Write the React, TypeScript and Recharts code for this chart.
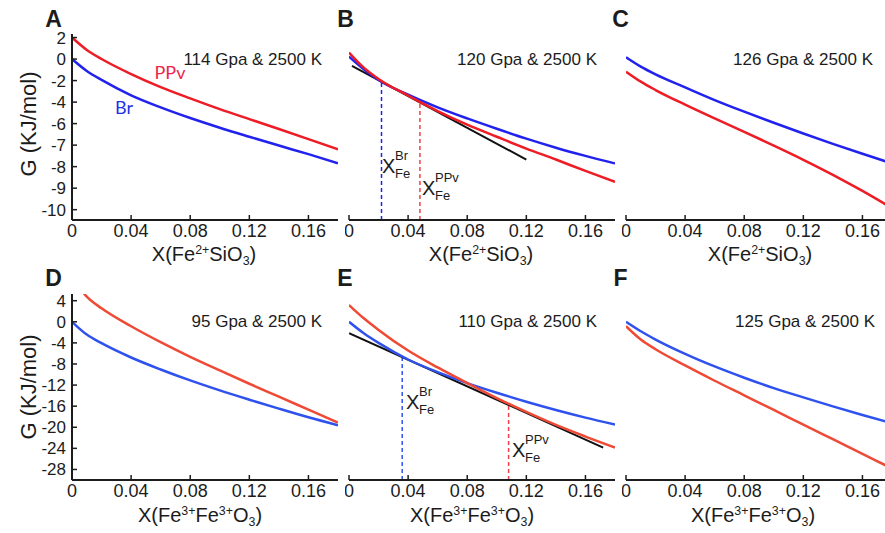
import { Line, LineChart, XAxis, YAxis } from "recharts";

const FONT = '"Liberation Sans", Arial, Helvetica, sans-serif';
const INK = "#1c1c1c";

// mole fraction grid shared by every curve
const xFrac = [0, 0.01, 0.02, 0.04, 0.06, 0.08, 0.1, 0.12, 0.14, 0.16, 0.18];
const xTicks = [0, 0.04, 0.08, 0.12, 0.16];

// tick labels as printed: the top row is evenly spaced on the page even though the values are not
const gTicksFe2 = [2, 0, -2, -4, -6, -7, -8, -9, -10];
const gTicksFe3 = [4, 0, -4, -8, -12, -16, -20, -24, -28];
const gDomainFe2 = [-10.48, 2.33];
const gDomainFe3 = [-30, 5.27];

// Fe2+SiO3, G in kJ/mol
const brA = [0, -1.11, -1.94, -3.37, -4.49, -5.48, -6.19, -6.61, -7.02, -7.42, -7.84];
const ppvA = [2, 0.85, 0.01, -1.39, -2.6, -3.65, -4.65, -5.58, -6.25, -6.72, -7.2];
const brB = [0.23, -0.95, -1.94, -3.31, -4.49, -5.52, -6.24, -6.7, -7.12, -7.5, -7.85];
const ppvB = [0.6, -0.8, -1.85, -3.4, -4.83, -6.05, -6.61, -7.16, -7.67, -8.2, -8.71];
const brC = [0.17, -0.7, -1.42, -2.63, -3.81, -4.89, -5.92, -6.46, -6.94, -7.4, -7.85];
const ppvC = [-1.17, -2.1, -2.88, -4.24, -5.52, -6.38, -7.02, -7.68, -8.38, -9.13, -9.93];

// Fe3+Fe3+O3
const brD = [0, -2.43, -4.06, -6.77, -9.04, -11.12, -13.01, -14.77, -16.47, -18.11, -19.62];
const ppvD = [8.5, 4.76, 2.55, -0.85, -3.87, -6.65, -9.23, -11.75, -14.2, -16.66, -19.12];
const brE = [0, -2.17, -4.0, -7.15, -9.54, -11.62, -13.45, -15.15, -16.72, -18.17, -19.5];
const ppvE = [3.18, 0.66, -1.54, -5.45, -8.66, -11.62, -14.46, -17.1, -19.56, -21.76, -23.84];
const brF = [0, -1.8, -3.37, -6.08, -8.47, -10.61, -12.57, -14.33, -16.03, -17.67, -19.24];
const ppvF = [-0.85, -3.37, -5.2, -8.28, -11.18, -13.95, -16.72, -19.5, -22.27, -25.04, -27.81];

// common tangents and the compositions they touch
const tangentB = [{ x: 0.002, g: -0.64 }, { x: 0.12, g: -7.67 }];
const xFeBrB = [{ x: 0.022, g: -10.48 }, { x: 0.022, g: -2.08 }];
const xFePpvB = [{ x: 0.048, g: -10.48 }, { x: 0.048, g: -4.0 }];
const tangentE = [{ x: 0, g: -2.17 }, { x: 0.172, g: -23.85 }];
const xFeBrE = [{ x: 0.036, g: -30 }, { x: 0.036, g: -6.7 }];
const xFePpvE = [{ x: 0.108, g: -30 }, { x: 0.108, g: -15.7 }];

const RED_2 = "#ee1c25";
const BLUE_2 = "#2222ee";
const RED_3 = "#ee4a36";
const BLUE_3 = "#2f52ef";

const PLOT_W = 266;
const PLOT_H = 186;

type Point = { x: number; g: number };
type Series = { key: string; data: Point[]; color: string; width?: number; dash?: string };

function rows(gs: number[]): Point[] {
  return xFrac.map((x, i) => ({ x, g: gs[i] }));
}

// piecewise linear scale that puts each printed tick one step apart
function stopScale(stops: number[]) {
  let dom = [stops[stops.length - 1], stops[0]];
  let rng = [0, 1];
  const last = stops.length - 2;
  const pos = (v: number) => {
    let i = 0;
    while (i < last && v < stops[i + 1]) i += 1;
    return i + (stops[i] - v) / (stops[i] - stops[i + 1]);
  };
  const scale: any = (v: number) => {
    const p0 = pos(dom[0]);
    const p1 = pos(dom[dom.length - 1]);
    return rng[0] + ((pos(v) - p0) / (p1 - p0)) * (rng[rng.length - 1] - rng[0]);
  };
  scale.domain = (d?: number[]) => {
    if (d === undefined) return dom.slice();
    dom = d.slice();
    return scale;
  };
  scale.range = (r?: number[]) => {
    if (r === undefined) return rng.slice();
    rng = r.slice();
    return scale;
  };
  scale.copy = () => stopScale(stops).domain(dom).range(rng);
  scale.ticks = () => stops.slice();
  scale.tickFormat = () => (v: number) => String(v);
  return scale;
}

function Panel({
  left,
  top,
  labelled,
  warped,
  series
}: {
  left: number;
  top: number;
  labelled: boolean;
  warped: boolean;
  series: Series[];
}) {
  const yLeft = labelled ? 60 : 0;
  const marginLeft = labelled ? 0 : 4;
  const offset = yLeft + marginLeft;
  const yTicks = warped ? gTicksFe2 : gTicksFe3;
  const yDomain = warped ? gDomainFe2 : gDomainFe3;
  const axisLine = { stroke: INK, strokeWidth: 2 };
  const tickLine = { stroke: INK, strokeWidth: 1.5 };
  const xFont = { fontSize: 18, fill: INK, fontFamily: FONT };
  const yFont = { fontSize: 17, fill: INK, fontFamily: FONT };

  return (
    <div style={{ position: "absolute", left: left - offset, top: top - 4 }}>
      <LineChart
        width={offset + PLOT_W + 4}
        height={4 + PLOT_H + 40}
        margin={{ top: 4, right: 4, bottom: 0, left: marginLeft }}
      >
        <XAxis
          xAxisId="b"
          type="number"
          dataKey="x"
          domain={[0, 0.18]}
          ticks={xTicks}
          interval={0}
          allowDataOverflow
          height={40}
          tickSize={-5}
          tickMargin={9}
          axisLine={axisLine}
          tickLine={tickLine}
          tick={xFont}
          tickFormatter={(v: number) => String(v)}
        />
        <XAxis
          xAxisId="t"
          orientation="top"
          type="number"
          dataKey="x"
          domain={[0, 0.18]}
          ticks={xTicks}
          interval={0}
          allowDataOverflow
          height={0}
          tickSize={-5}
          axisLine={axisLine}
          tickLine={tickLine}
          tick={false}
        />
        <YAxis
          yAxisId="l"
          type="number"
          domain={yDomain}
          ticks={yTicks}
          interval={0}
          allowDataOverflow
          scale={warped ? stopScale(gTicksFe2) : "linear"}
          width={yLeft}
          tickSize={-5}
          tickMargin={11}
          axisLine={axisLine}
          tickLine={tickLine}
          tick={labelled ? yFont : false}
        />
        <YAxis
          yAxisId="r"
          orientation="right"
          type="number"
          domain={yDomain}
          ticks={yTicks}
          interval={0}
          allowDataOverflow
          scale={warped ? stopScale(gTicksFe2) : "linear"}
          width={0}
          tickSize={-5}
          axisLine={axisLine}
          tickLine={tickLine}
          tick={false}
        />
        {series.map((s) => (
          <Line
            key={s.key}
            xAxisId="b"
            yAxisId="l"
            data={s.data}
            dataKey="g"
            type={s.data.length > 2 ? "monotone" : "linear"}
            stroke={s.color}
            strokeWidth={s.width ?? 2.5}
            strokeDasharray={s.dash}
            dot={false}
            activeDot={false}
            isAnimationActive={false}
          />
        ))}
      </LineChart>
    </div>
  );
}

function Txt({
  x,
  y,
  size,
  anchor = "middle",
  bold,
  color = INK,
  family = FONT,
  rotate,
  children
}: {
  x: number;
  y: number;
  size: number;
  anchor?: "start" | "middle" | "end";
  bold?: boolean;
  color?: string;
  family?: string;
  rotate?: boolean;
  children: React.ReactNode;
}) {
  const tx = anchor === "middle" ? "-50%" : anchor === "end" ? "-100%" : "0";
  return (
    <div
      style={{
        position: "absolute",
        left: x,
        top: y,
        transform: `translate(${tx}, -50%)${rotate ? " rotate(-90deg)" : ""}`,
        fontSize: size,
        lineHeight: 1,
        fontWeight: bold ? 700 : 400,
        color,
        fontFamily: family,
        whiteSpace: "nowrap"
      }}
    >
      {children}
    </div>
  );
}

const sup = { fontSize: "0.62em", position: "relative" as const, top: "-0.6em" };
const sub = { fontSize: "0.62em", position: "relative" as const, top: "0.3em" };

function XFe({ x, y, phase }: { x: number; y: number; phase: string }) {
  const small = { position: "absolute" as const, left: 13, fontSize: 13, lineHeight: 1, transform: "translateY(-50%)" };
  return (
    <div style={{ position: "absolute", left: x, top: y, fontFamily: FONT, color: INK, whiteSpace: "nowrap" }}>
      <span style={{ position: "absolute", left: 0, top: 0, fontSize: 20, lineHeight: 1, transform: "translateY(-50%)" }}>X</span>
      <span style={{ ...small, top: -11 }}>{phase}</span>
      <span style={{ ...small, top: 7 }}>Fe</span>
    </div>
  );
}

const fe2Title = (
  <>
    X(Fe<span style={sup}>2+</span>SiO<span style={sub}>3</span>)
  </>
);
const fe3Title = (
  <>
    X(Fe<span style={sup}>3+</span>Fe<span style={sup}>3+</span>O<span style={sub}>3</span>)
  </>
);

export default function App() {
  const top1 = 34;
  const top2 = 293.5;
  return (
    <div
      style={{
        position: "absolute",
        left: 0,
        top: 0,
        width: 885,
        height: 533,
        overflow: "hidden",
        background: "#fff",
        fontFamily: FONT
      }}
    >
      <Panel
        left={72}
        top={top1}
        labelled
        warped
        series={[
          { key: "ppv", data: rows(ppvA), color: RED_2 },
          { key: "br", data: rows(brA), color: BLUE_2 }
        ]}
      />
      <Panel
        left={348.5}
        top={top1}
        labelled={false}
        warped
        series={[
          { key: "brx", data: xFeBrB, color: BLUE_2, width: 1.5, dash: "4 3" },
          { key: "ppvx", data: xFePpvB, color: "#f0404a", width: 1.5, dash: "4 3" },
          { key: "tan", data: tangentB, color: "#111", width: 2 },
          { key: "br", data: rows(brB), color: BLUE_2 },
          { key: "ppv", data: rows(ppvB), color: RED_2 }
        ]}
      />
      <Panel
        left={625.5}
        top={top1}
        labelled={false}
        warped
        series={[
          { key: "ppv", data: rows(ppvC), color: RED_2 },
          { key: "br", data: rows(brC), color: BLUE_2 }
        ]}
      />
      <Panel
        left={72}
        top={top2}
        labelled
        warped={false}
        series={[
          { key: "ppv", data: rows(ppvD), color: RED_3 },
          { key: "br", data: rows(brD), color: BLUE_3 }
        ]}
      />
      <Panel
        left={349}
        top={top2}
        labelled={false}
        warped={false}
        series={[
          { key: "brx", data: xFeBrE, color: BLUE_3, width: 1.5, dash: "4 3" },
          { key: "ppvx", data: xFePpvE, color: "#f0404a", width: 1.5, dash: "4 3" },
          { key: "tan", data: tangentE, color: "#111", width: 2 },
          { key: "br", data: rows(brE), color: BLUE_3 },
          { key: "ppv", data: rows(ppvE), color: RED_3 }
        ]}
      />
      <Panel
        left={625.5}
        top={top2}
        labelled={false}
        warped={false}
        series={[
          { key: "ppv", data: rows(ppvF), color: RED_3 },
          { key: "br", data: rows(brF), color: BLUE_3 }
        ]}
      />

      <Txt x={53.5} y={18.5} size={23} bold>A</Txt>
      <Txt x={345.5} y={19} size={23} bold>B</Txt>
      <Txt x={620.5} y={19} size={23} bold>C</Txt>
      <Txt x={53.5} y={277.5} size={23} bold>D</Txt>
      <Txt x={345} y={278} size={23} bold>E</Txt>
      <Txt x={620.5} y={278} size={23} bold>F</Txt>

      <Txt x={322} y={59} size={17} anchor="end">114 Gpa &amp; 2500 K</Txt>
      <Txt x={597} y={59} size={17} anchor="end">120 Gpa &amp; 2500 K</Txt>
      <Txt x={873} y={59} size={17} anchor="end">126 Gpa &amp; 2500 K</Txt>
      <Txt x={322} y={321} size={17} anchor="end">95 Gpa &amp; 2500 K</Txt>
      <Txt x={597} y={321} size={17} anchor="end">110 Gpa &amp; 2500 K</Txt>
      <Txt x={875} y={321} size={17} anchor="end">125 Gpa &amp; 2500 K</Txt>

      <Txt x={28.5} y={124} size={22} rotate>G (KJ/mol)</Txt>
      <Txt x={28.5} y={386.5} size={22} rotate>G (KJ/mol)</Txt>

      <Txt x={204} y={254} size={20}>{fe2Title}</Txt>
      <Txt x={481} y={254} size={20}>{fe2Title}</Txt>
      <Txt x={760} y={254} size={20}>{fe2Title}</Txt>
      <Txt x={200} y={515} size={20}>{fe3Title}</Txt>
      <Txt x={472} y={515} size={20}>{fe3Title}</Txt>
      <Txt x={753} y={515} size={20}>{fe3Title}</Txt>

      <Txt x={170} y={71.5} size={18} color="#ee2348" family="Lato, sans-serif">PPv</Txt>
      <Txt x={124} y={107} size={18} color="#2233e6" family="Lato, sans-serif">Br</Txt>

      <XFe x={382} y={165.5} phase="Br" />
      <XFe x={422} y={187.5} phase="PPv" />
      <XFe x={406} y={402} phase="Br" />
      <XFe x={512} y={450} phase="PPv" />
    </div>
  );
}
